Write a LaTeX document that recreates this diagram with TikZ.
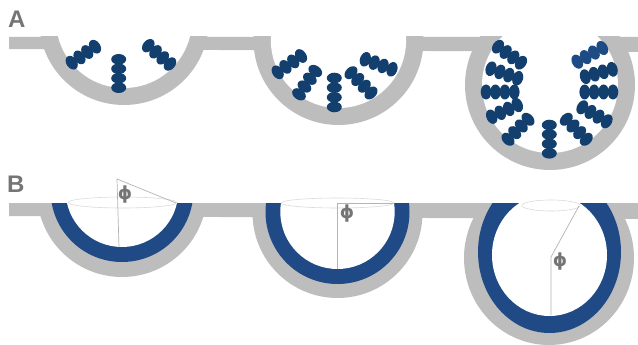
\documentclass[tikz,border=0pt]{standalone}
\usepackage{fontspec}
\setmainfont{Liberation Sans}
\newfontfamily\symbolfont{DejaVu Sans}
\definecolor{wallgray}{HTML}{BDBDBD}
\definecolor{coatblue}{HTML}{1F4A85}
\definecolor{beadblue}{HTML}{123F6D}
\definecolor{beadlight}{HTML}{1D4C85}
\definecolor{labelgray}{HTML}{757575}
\definecolor{rimgray}{HTML}{DADADA}
\definecolor{axisgray}{HTML}{B4B4B4}
\tikzset{
  wall/.style={fill=wallgray},
  coat/.style={fill=coatblue},
  cavity/.style={fill=white},
  rim/.style={draw=rimgray,line width=0.6pt},
  axisline/.style={draw=axisgray,line width=0.7pt},
  panellabel/.style={text=labelgray,font=\fontsize{24}{24}\selectfont\bfseries,inner sep=0pt},
  anglelabel/.style={text=labelgray,font=\symbolfont\bfseries\fontsize{18}{18}\selectfont,inner sep=0pt},
}
% One strand of four beads, given its two end centres; the beads lie across the strand.
\newcommand{\strand}[5][beadblue]{%
  \pgfmathsetmacro{\strandangle}{atan2(-(#5-#3),#4-#2)}%
  \foreach \t in {0,0.3333,0.6667,1}{%
    \pgfmathsetmacro{\beadx}{#2+\t*(#4-#2)}%
    \pgfmathsetmacro{\beady}{#3+\t*(#5-#3)}%
    \fill[#1,shift={(\beadx,\beady)},rotate=\strandangle] (0,0) circle[x radius=5.3pt,y radius=7.5pt];
  }%
}
\begin{document}
\begin{tikzpicture}[x=1pt,y=-1pt]
\useasboundingbox (0,0) rectangle (638,345);

% Panel A: surface and pits
\fill[wall] (9,37) -- (638,37) -- (638,52) -- (9,49) -- cycle;
\begin{scope}
  \clip (0,37) rectangle (638,345);
  \fill[wall] (124,20) circle[radius=85pt];
  \fill[wall] (338.5,40) circle[radius=85pt];
  \fill[wall] (550,85) circle[radius=85pt];
  \fill[cavity] (124,20) circle[radius=68pt];
  \fill[cavity] (338.5,40.4) circle[radius=67.6pt];
  \fill[cavity] (550,85) circle[radius=68pt];
\end{scope}

% Panel A: shallow pit strands
\strand{71.7}{62.7}{95}{46.7}
\strand{118.7}{87.7}{118.7}{59.3}
\strand{148.3}{45.7}{170}{64}

% Panel A: middle pit strands
\strand{277.7}{72.3}{301}{56}
\strand{299}{94.3}{315.3}{71}
\strand{334.3}{107}{334.3}{78}
\strand{351}{72.7}{371}{93}
\strand{365.3}{59.3}{392}{69.3}

% Panel A: deep pit strands
\strand{498}{46.7}{521}{62.7}
\strand{491}{68.7}{517.7}{78.3}
\strand{486}{92}{514.3}{92}
\strand{491.7}{116.7}{517.3}{105}
\strand{508}{139.3}{528}{119.3}
\strand{549.3}{153.3}{549.3}{125}
\strand{566.3}{119.3}{586.3}{139.3}
\strand{582.3}{107.3}{606.7}{121.3}
\strand{584.7}{92}{613}{92}
\strand{585.3}{76.7}{612.3}{69.3}
\strand[beadlight]{577.3}{61.7}{602.3}{48}

% Panel B: surface, wall and continuous coating
\fill[wall] (9,203) -- (638,203) -- (638,219) -- (9,216) -- cycle;
\begin{scope}
  \clip (0,203) rectangle (638,345);
  \fill[wall] (122,192) circle[radius=85pt];
  \fill[wall] (337.5,213) circle[radius=85pt];
  \fill[wall] (549,258) circle[x radius=85pt,y radius=87pt];
  \fill[coat] (122,190.6) circle[radius=71.4pt];
  \fill[coat] (337.5,212) circle[radius=72pt];
  \fill[coat] (549.5,252) circle[x radius=71.5pt,y radius=81pt];
  \fill[cavity] (122,190.6) circle[radius=56.4pt];
  \fill[cavity] (337.5,211.8) circle[radius=57.2pt];
  \fill[cavity] (549.5,255) circle[x radius=57.5pt,y radius=61pt];
\end{scope}

% Panel B: pit openings
\draw[rim] (122.5,202.5) circle[x radius=54.5pt,y radius=5.5pt];
\draw[rim] (337.5,203) circle[x radius=56.5pt,y radius=5pt];
\draw[rim] (551,205.5) circle[x radius=29pt,y radius=5.5pt];

% Panel B: contact angle constructions
\coordinate (apexL) at (117,179);
\coordinate (rimL) at (176,203);
\coordinate (baseL) at (119,247);
\coordinate (apexM) at (337,203);
\coordinate (rimM) at (393,203);
\coordinate (baseM) at (337,269);
\coordinate (apexR) at (551,257);
\coordinate (rimR) at (579,206);
\coordinate (baseR) at (551,315);
\draw[axisline] (rimL) -- (apexL) -- (baseL);
\draw[axisline] (rimM) -- (apexM) -- (baseM);
\draw[axisline] (rimR) -- (apexR) -- (baseR);

\node[anglelabel] (phiL) at (125,195) {ϕ};
\node[anglelabel] (phiM) at (347,214) {ϕ};
\node[anglelabel] (phiR) at (560,261.5) {ϕ};

% Panel letters
\node[panellabel,anchor=base west] (labelA) at (8,28) {A};
\node[panellabel,anchor=base west] (labelB) at (7,192) {B};
\end{tikzpicture}
\end{document}
